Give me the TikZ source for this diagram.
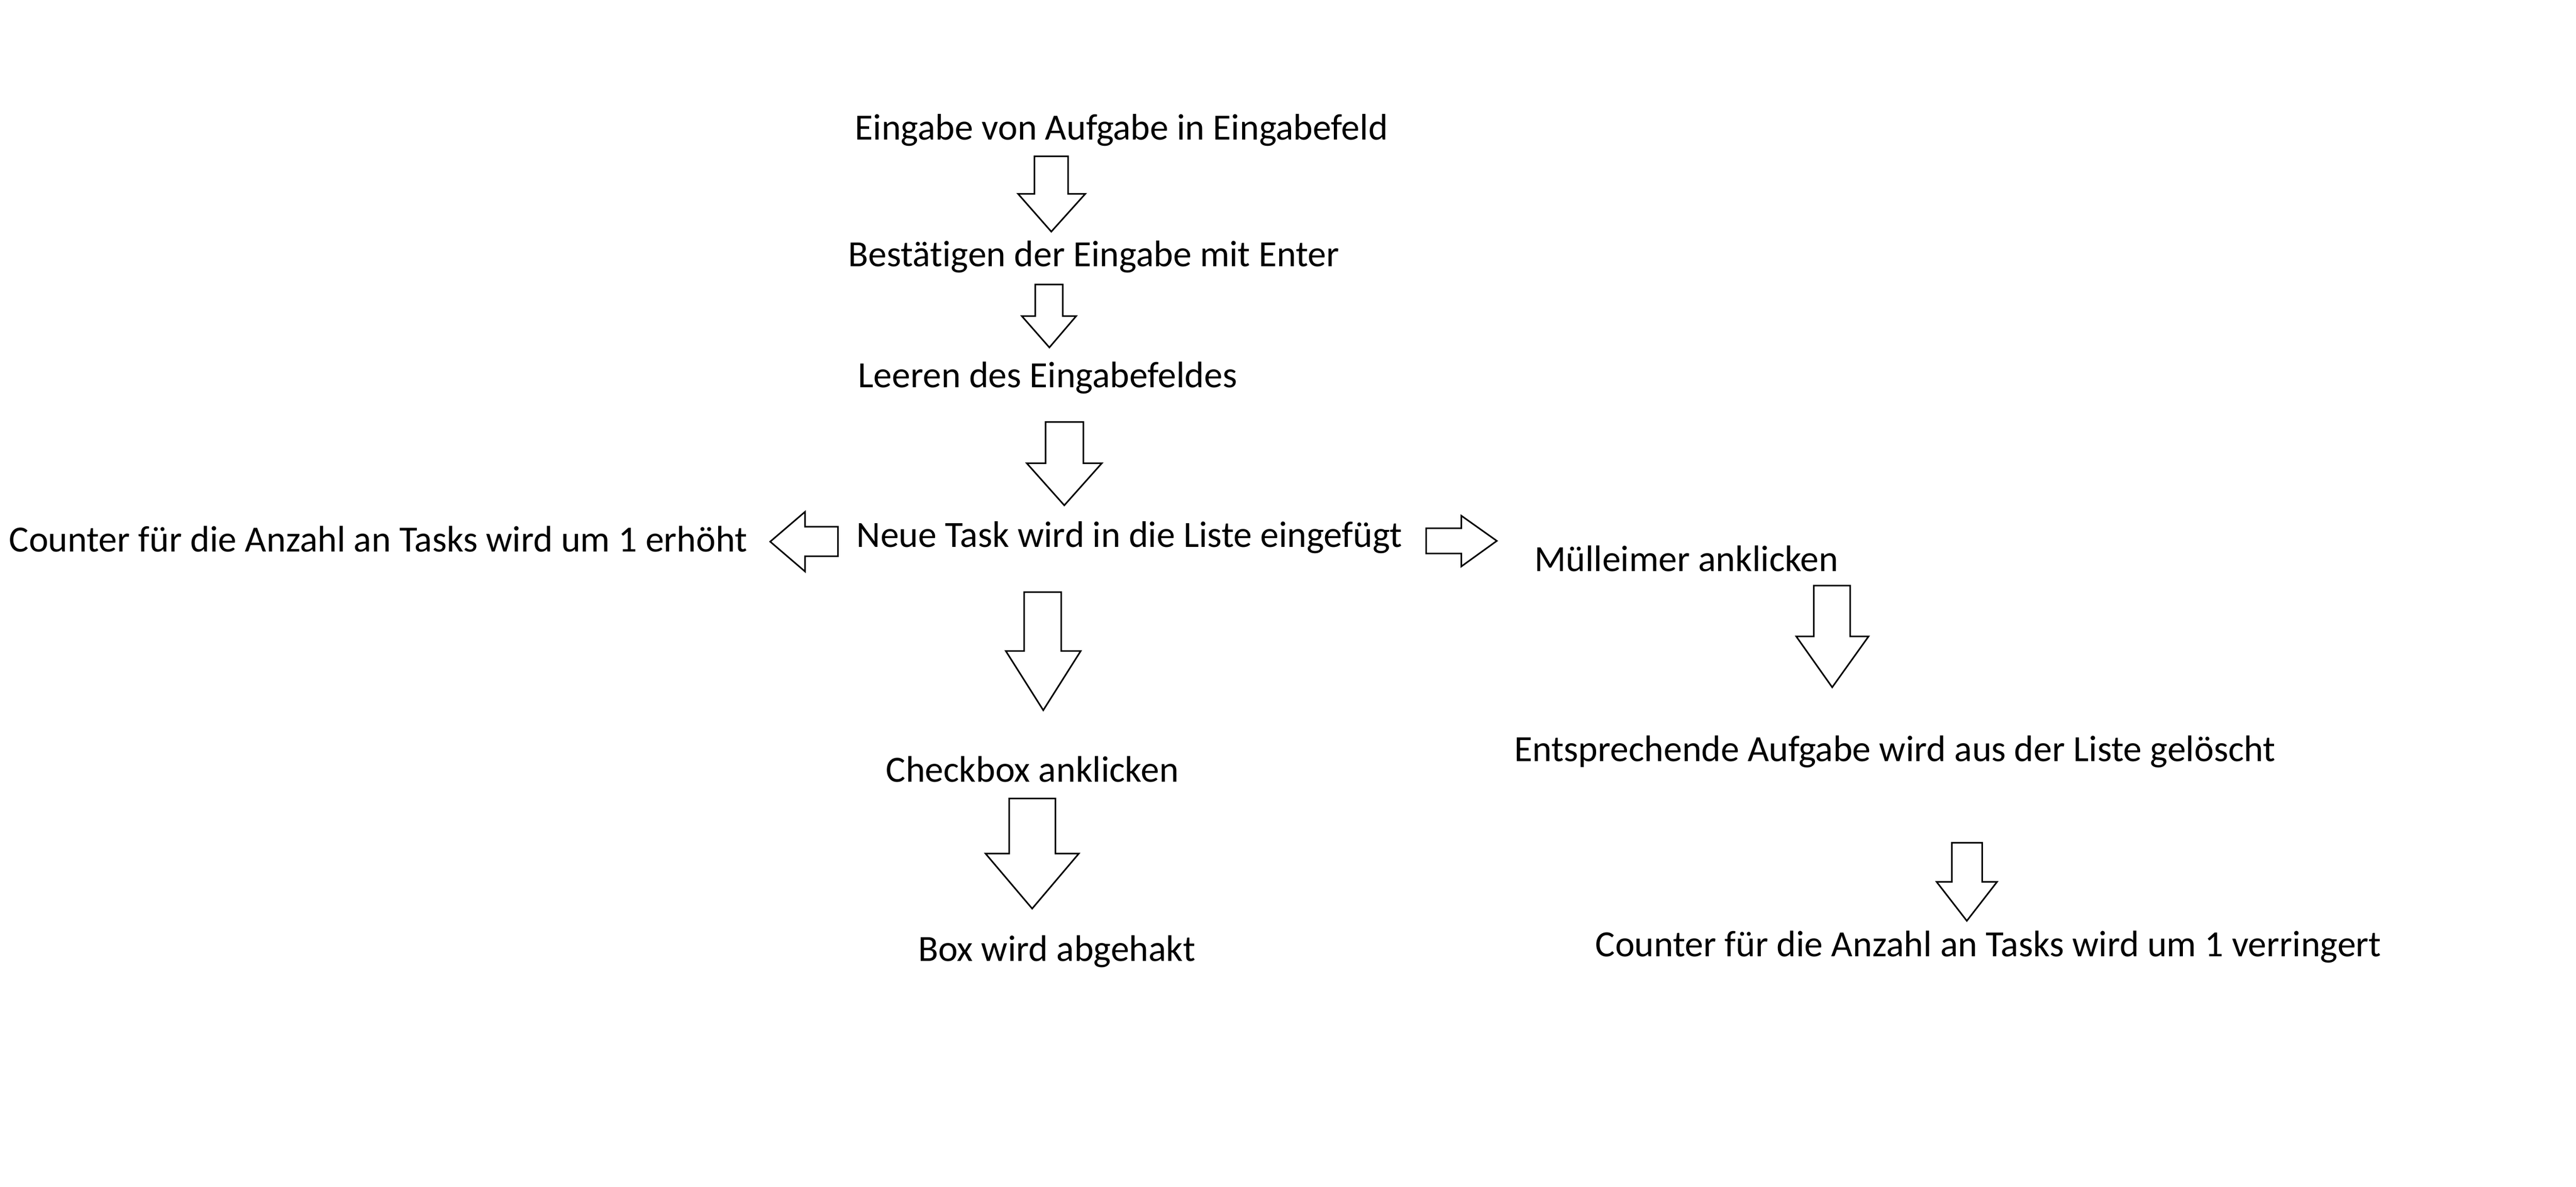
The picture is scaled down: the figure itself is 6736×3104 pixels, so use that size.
\documentclass[tikz,border=0pt]{standalone}
\usepackage{fontspec}
\setmainfont[Ligatures={NoCommon}]{Carlito}
\tikzset{
  lbl/.style={anchor=base west, inner sep=0pt, outer sep=0pt, font=\fontsize{27.5pt}{32pt}\selectfont},
  blockarrow/.style={draw=black, line width=1.15pt, line join=miter, fill=white}
}
% down block arrow: #1 shaft left, #2 shaft right, #3 head left, #4 head right, #5 tip x, #6 top, #7 shoulder, #8 tip y
\newcommand\bdown[8]{\draw[blockarrow] (#1,#6) -- (#2,#6) -- (#2,#7) -- (#4,#7) -- (#5,#8) -- (#3,#7) -- (#1,#7) -- cycle;}
\begin{document}
\begin{tikzpicture}[x=0.01cm,y=-0.01cm]
\useasboundingbox[fill=white] (0,0) rectangle (6736,3104);

% texts
\node[lbl] (t1) at (2236,366) {Eingabe von Aufgabe in Eingabefeld};
\node[lbl] (t2) at (2218,697) {Bestätigen der Eingabe mit Enter};
\node[lbl] (t3) at (2244,1014) {Leeren des Eingabefeldes};
\node[lbl] (t4) at (2240,1432) {Neue Task wird in die Liste eingefügt};
\node[lbl] (tl) at (24,1444) {Counter für die Anzahl an Tasks wird um 1 erhöht};
\node[lbl] (tm) at (4012,1495) {Mülleimer anklicken};
\node[lbl] (te) at (3960,1992) {Entsprechende Aufgabe wird aus der Liste gelöscht};
\node[lbl] (tc) at (4172,2502) {Counter für die Anzahl an Tasks wird um 1 verringert};
\node[lbl] (tk) at (2317,2046) {Checkbox anklicken};
\node[lbl] (tb) at (2401,2514) {Box wird abgehakt};

% vertical block arrows
\bdown{2705}{2793}{2662}{2838}{2749}{409}{507}{606}
\bdown{2707}{2779}{2672}{2814}{2744}{744}{827}{909}
\bdown{2734}{2833}{2685}{2881}{2783}{1104}{1212}{1322}
\bdown{2678}{2775}{2630}{2826}{2728}{1549}{1703}{1858}
\bdown{2639}{2760}{2577}{2821}{2699}{2089}{2233}{2377}
\bdown{4743}{4838}{4697}{4886}{4791}{1532}{1665}{1798}
\bdown{5104}{5183}{5064}{5222}{5143}{2205}{2307}{2409}

% left block arrow
\draw[blockarrow] (2191,1378) -- (2191,1455) -- (2105,1455) -- (2105,1495) -- (2014,1417) -- (2105,1339) -- (2105,1378) -- cycle;
% right block arrow
\draw[blockarrow] (3729,1382) -- (3821,1382) -- (3821,1349) -- (3914,1415) -- (3821,1482) -- (3821,1448) -- (3729,1448) -- cycle;
\end{tikzpicture}
\end{document}
